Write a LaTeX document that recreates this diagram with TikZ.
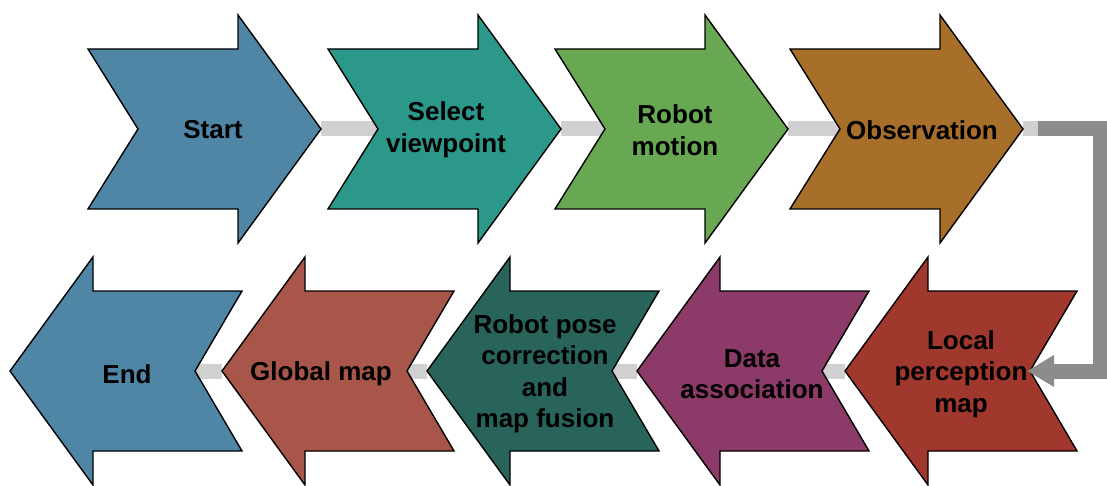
\documentclass[tikz,border=0pt]{standalone}
\usepackage{fontspec}
\setmainfont{Liberation Sans}
\usetikzlibrary{arrows.meta,backgrounds}
\definecolor{cStart}{RGB}{79,134,166}
\definecolor{cSelect}{RGB}{44,152,137}
\definecolor{cMotion}{RGB}{104,168,82}
\definecolor{cObs}{RGB}{168,111,42}
\definecolor{cLocal}{RGB}{160,56,46}
\definecolor{cData}{RGB}{140,58,104}
\definecolor{cPose}{RGB}{40,100,90}
\definecolor{cGlobal}{RGB}{168,86,74}
\definecolor{cLight}{RGB}{208,208,208}
\definecolor{cDark}{RGB}{140,140,140}
\tikzset{
  chev/.style={draw=black, line width=1.4pt, line join=miter, miter limit=20},
  lbl/.style={font=\fontsize{26}{31.5}\selectfont\bfseries, align=center, text=black, inner sep=0pt},
  lightline/.style={draw=cLight, line width=15pt, line cap=butt},
  darkline/.style={draw=cDark, line width=15pt, line cap=butt, line join=miter},
}
% right-pointing chevron: #1 name, #2 left x, #3 centre y, #4 colour, #5 text, #6 text x offset
\newcommand\rchev[6]{%
  \begin{scope}[shift={(#2,#3)}]
    \path[chev, fill=#4] (0,-80) -- (150,-80) -- (150,-114) -- (233,0) -- (150,114) -- (150,80) -- (0,80) -- (50,0) -- cycle;
    \coordinate (#1-notch) at (50,0);
    \coordinate (#1-tip) at (233,0);
    \node[lbl] (#1) at (#6,1) {#5};
  \end{scope}}
% left-pointing chevron: #1 name, #2 tip x, #3 centre y, #4 colour, #5 text, #6 text x offset
\newcommand\lchev[6]{%
  \begin{scope}[shift={(#2,#3)}]
    \path[chev, fill=#4] (0,0) -- (83,-114) -- (83,-80) -- (232,-80) -- (185,0) -- (232,80) -- (83,80) -- (83,114) -- cycle;
    \coordinate (#1-notch) at (185,0);
    \coordinate (#1-tip) at (0,0);
    \node[lbl] (#1) at (#6,3) {#5};
  \end{scope}}
\begin{document}
\begin{tikzpicture}[x=1pt, y=-1pt]
\useasboundingbox (0,0) rectangle (1107,486);
% top row
\rchev{start}{88}{129}{cStart}{Start}{125}
\rchev{select}{328}{129}{cSelect}{Select\\viewpoint}{118}
\rchev{motion}{555}{129}{cMotion}{Robot\\motion}{120}
\rchev{obs}{790}{129}{cObs}{Observation}{132}
% bottom row
\lchev{endn}{10}{371}{cStart}{End}{117}
\lchev{global}{222}{371}{cGlobal}{Global map}{99}
\lchev{pose}{427}{371}{cPose}{Robot pose\\correction\\and\\map fusion}{118}
\lchev{data}{637}{371}{cData}{Data\\association}{115}
\lchev{local}{845}{371}{cLocal}{Local\\perception\\map}{116}
\coordinate (obsext) at (1038,129);
\coordinate (turn1) at (1100,129);
\coordinate (turn2) at (1100,371);
\begin{scope}[on background layer]
  \fill[white] (0,0) rectangle (1107,486);
  \path[lightline] (start-tip) -- (select-notch);
  \path[lightline] (select-tip) -- (motion-notch);
  \path[lightline] (motion-tip) -- (obs-notch);
  \path[lightline] (obs-tip) -- (obsext);
  \path[lightline] (local-tip) -- (data-notch);
  \path[lightline] (data-tip) -- (pose-notch);
  \path[lightline] (pose-tip) -- (global-notch);
  \path[lightline] (global-tip) -- (endn-notch);
\end{scope}
\path[darkline, -{Triangle[length=27pt,width=30pt]}, shorten >=-3pt] (obsext) -- (turn1) -- (turn2) -- (local-notch);
\end{tikzpicture}
\end{document}
